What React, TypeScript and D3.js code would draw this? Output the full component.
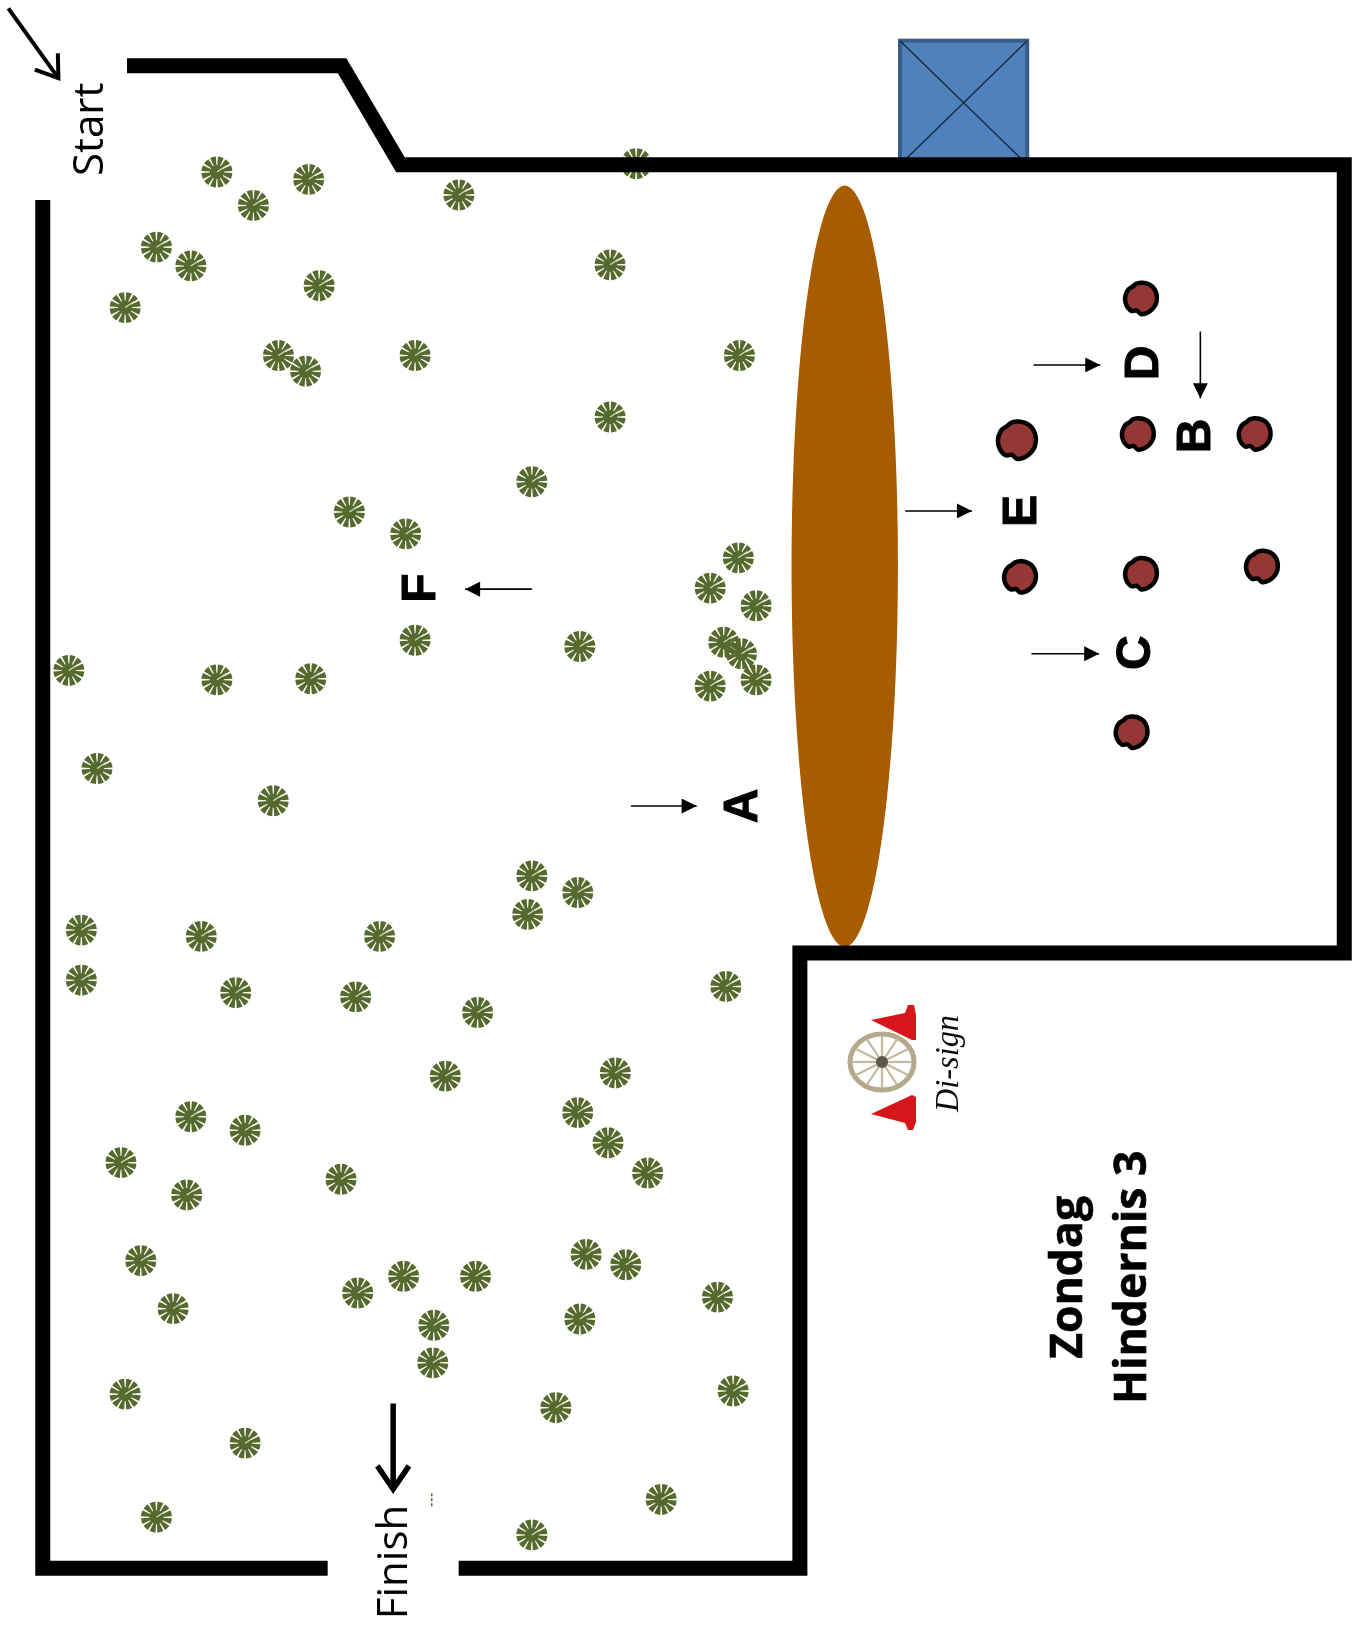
import React, { useEffect, useRef } from 'react';
import * as d3 from 'd3';

const WIDTH = 1362;
const HEIGHT = 1635;

// all positions, in a 1306x1568 frame
const treeX = [208, 296, 243, 440, 610, 150, 183, 306, 120, 585, 267, 293, 398, 709, 585, 510, 335, 389, 708, 681, 725, 398, 556, 694, 711, 725, 681, 66, 208, 298, 93, 262, 510, 554, 506, 78, 193, 364, 78, 226, 341, 696, 458, 427, 590, 554, 183, 235, 583, 116, 621, 327, 179, 135, 562, 600, 166, 343, 387, 456, 688, 416, 556, 415, 120, 703, 533, 235, 634, 150, 510];
const treeY = [165, 172, 197, 187, 157, 237, 255, 274, 295, 254, 341, 356, 341, 341, 400, 462, 491, 512, 535, 564, 581, 614, 620, 616, 627, 652, 658, 643, 652, 651, 737, 768, 840, 856, 877, 892, 898, 898, 940, 952, 956, 946, 971, 1032, 1029, 1067, 1071, 1084, 1096, 1115, 1125, 1131, 1146, 1209, 1203, 1213, 1255, 1240, 1224, 1224, 1244, 1271, 1265, 1307, 1337, 1334, 1350, 1384, 1438, 1455, 1472];

const cones = [
  { x: 1094, y: 286, r: 15.5 },
  { x: 1091, y: 416, r: 15.5 },
  { x: 1203, y: 416, r: 15.5 },
  { x: 975, y: 422, r: 18.5 },
  { x: 978, y: 553, r: 15.5 },
  { x: 1094, y: 550, r: 15.5 },
  { x: 1210, y: 543, r: 15.5 },
  { x: 1085, y: 702, r: 15.5 },
];

const letters = [
  { t: 'A', x: 710, y: 773 },
  { t: 'B', x: 1144, y: 418 },
  { t: 'C', x: 1087, y: 626 },
  { t: 'D', x: 1095, y: 348 },
  { t: 'E', x: 978, y: 490 },
  { t: 'F', x: 401, y: 564 },
];

const pointers = [
  [605, 773, 668, 773],
  [991, 350, 1055, 350],
  [868, 490, 932, 490],
  [989, 627, 1054, 627],
  [510, 565, 446, 565],
  [1151, 318, 1151, 382],
];

const wallOuter = [[129, 63], [328, 63], [384, 158], [1289, 158], [1289, 914], [767, 914], [767, 1504], [447, 1504]];
const wallLeft = [[41, 199], [41, 1504], [307, 1504]];
const box = { x0: 863, x1: 985, y0: 39, y1: 158 };
const mound = { cx: 810, cy: 543, rx: 51, ry: 365 };
const labels = [
  { t: 'Start', x: 83, y: 124 },
  { t: 'Finish', x: 374, y: 1498 },
];
const titleLines = [
  { t: 'Zondag', x: 1021, y: 1225 },
  { t: 'Hindernis 3', x: 1082, y: 1225 },
];
const blobShape = [1, 1.02, 1.04, 1.05, 1.04, 1.03, 1.03, 1.02, 1.02, 1.03, 1.02, 0.84, 1.02, 1.04, 1.03, 1.02, 1, 0.98, 0.92, 0.98];
const spokes = d3.range(12);

// logo outlines, in the 1362x1635 frame of the full size picture
const upperCone = [[871, 1020], [905, 1013], [908, 1005], [914, 1005], [916, 1015], [916, 1040], [912, 1040]];
const lowerCone = [[871, 1114], [912, 1095], [916, 1097], [916, 1122], [913, 1130], [908, 1130], [905, 1123]];

function App() {
  const ref = useRef<SVGSVGElement | null>(null);

  useEffect(() => {
    const svg = d3.select(ref.current);
    svg.selectAll('*').remove();

    const x = d3.scaleLinear().domain([0, 1306]).range([0, WIDTH]);
    const y = d3.scaleLinear().domain([0, 1568]).range([0, HEIGHT]);
    const line = d3.line<number[]>().x((d) => x(d[0])).y((d) => y(d[1]));

    const defs = svg.append('defs');
    defs.append('filter').attr('id', 'soft').append('feGaussianBlur').attr('stdDeviation', 0.6);
    defs
      .append('marker')
      .attr('id', 'tip')
      .attr('viewBox', '0 0 10 10')
      .attr('refX', 10)
      .attr('refY', 5)
      .attr('markerUnits', 'userSpaceOnUse')
      .attr('markerWidth', 16)
      .attr('markerHeight', 15)
      .attr('orient', 'auto')
      .append('path')
      .attr('d', 'M0,0L10,5L0,10Z')
      .attr('fill', '#000');

    const root = svg.append('g').attr('filter', 'url(#soft)');

    // shed behind the wall
    const shed = root.append('g');
    shed
      .append('rect')
      .attr('x', x(box.x0))
      .attr('y', y(box.y0))
      .attr('width', x(box.x1) - x(box.x0))
      .attr('height', y(box.y1) - y(box.y0))
      .attr('fill', '#4f81bd')
      .attr('stroke', '#385d8a')
      .attr('stroke-width', 4);
    shed
      .selectAll('line')
      .data([[box.x0, box.y0, box.x1, box.y1], [box.x1, box.y0, box.x0, box.y1]])
      .enter()
      .append('line')
      .attr('x1', (d) => x(d[0]))
      .attr('y1', (d) => y(d[1]))
      .attr('x2', (d) => x(d[2]))
      .attr('y2', (d) => y(d[3]))
      .attr('stroke', '#1c2b40')
      .attr('stroke-width', 1.5);

    root
      .append('ellipse')
      .attr('cx', x(mound.cx))
      .attr('cy', y(mound.cy))
      .attr('rx', x(mound.rx))
      .attr('ry', y(mound.ry))
      .attr('fill', '#a85c02');

    // trees
    const pie = d3.pie<number>().value(1).sort(null).padAngle(0.13);
    const arc = d3.arc<d3.PieArcDatum<number>>().innerRadius(0).outerRadius(15.5);
    const wedges = pie(spokes);
    const trees = root
      .selectAll('g.tree')
      .data(treeX.map((tx, i) => [tx, treeY[i]]))
      .enter()
      .append('g')
      .attr('class', 'tree')
      .attr('transform', (d) => `translate(${x(d[0])},${y(d[1])})`);
    trees
      .selectAll('path')
      .data(wedges)
      .enter()
      .append('path')
      .attr('d', (d) => arc(d))
      .attr('fill', '#566a2e');
    trees.append('circle').attr('r', 7).attr('fill', '#566a2e');
    trees
      .append('line')
      .attr('x1', 0)
      .attr('y1', 0)
      .attr('x2', 9)
      .attr('y2', -6)
      .attr('stroke', '#d8dfc8')
      .attr('stroke-width', 1.2);

    // walls on top of the trees
    root
      .selectAll('path.wall')
      .data([wallOuter, wallLeft])
      .enter()
      .append('path')
      .attr('class', 'wall')
      .attr('d', (d) => line(d))
      .attr('fill', 'none')
      .attr('stroke', '#000')
      .attr('stroke-width', 15)
      .attr('stroke-linejoin', 'miter')
      .attr('stroke-linecap', 'square');

    // cones
    const blob = d3
      .lineRadial<number>()
      .angle((_, i) => (i / blobShape.length) * 2 * Math.PI)
      .radius((d) => d)
      .curve(d3.curveCatmullRomClosed);
    root
      .selectAll('path.cone')
      .data(cones)
      .enter()
      .append('path')
      .attr('class', 'cone')
      .attr('transform', (d) => `translate(${x(d.x)},${y(d.y)})`)
      .attr('d', (d) => blob(blobShape.map((s) => s * d.r)))
      .attr('fill', '#953735')
      .attr('stroke', '#000')
      .attr('stroke-width', 4.5);

    // pointers
    root
      .selectAll('line.pointer')
      .data(pointers)
      .enter()
      .append('line')
      .attr('class', 'pointer')
      .attr('x1', (d) => x(d[0]))
      .attr('y1', (d) => y(d[1]))
      .attr('x2', (d) => x(d[2]))
      .attr('y2', (d) => y(d[3]))
      .attr('stroke', '#000')
      .attr('stroke-width', 1.6)
      .attr('marker-end', 'url(#tip)');

    // start and finish arrows with an open head
    const openArrow = (a: number[], b: number[], w: number, head: number) => {
      const ang = Math.atan2(y(b[1]) - y(a[1]), x(b[0]) - x(a[0]));
      const wing = (o: number) => [
        x(b[0]) - head * Math.cos(ang + o),
        y(b[1]) - head * Math.sin(ang + o),
      ];
      const tip = [x(b[0]), y(b[1])];
      const g = root.append('g').attr('fill', 'none').attr('stroke', '#000').attr('stroke-width', w);
      g.append('path').attr('d', line([a, b]));
      g.append('path').attr('d', d3.line()([wing(0.6), tip, wing(-0.6)]));
    };
    openArrow([8, 8], [56, 75], 4, 25);
    openArrow([377, 1346], [377, 1428], 5.5, 28);

    const rotated = (
      sel: d3.Selection<any, any, any, any>,
      fam: string,
      size: number,
      weight: string
    ) =>
      sel
        .attr('transform', (d) => `translate(${x(d.x)},${y(d.y)}) rotate(-90)`)
        .attr('text-anchor', 'middle')
        .attr('dominant-baseline', 'central')
        .attr('font-family', fam)
        .attr('font-size', size)
        .attr('font-weight', weight)
        .attr('fill', '#000')
        .text((d) => d.t);

    rotated(root.selectAll('text.mark').data(letters).enter().append('text').attr('class', 'mark'), 'Liberation Sans', 48, 'bold')
      .attr('stroke', '#000')
      .attr('stroke-width', 1);
    rotated(root.selectAll('text.gate').data(labels).enter().append('text').attr('class', 'gate'), 'Open Sans', 42, 'normal');
    rotated(root.selectAll('text.title').data(titleLines).enter().append('text').attr('class', 'title'), 'Open Sans', 44.5, 'bold')
      .attr('stroke', '#000')
      .attr('stroke-width', 0.6);

    // tiny stray mark by the finish
    root
      .append('line')
      .attr('x1', x(414))
      .attr('y1', y(1432))
      .attr('x2', x(414))
      .attr('y2', y(1446))
      .attr('stroke', '#566a2e')
      .attr('stroke-width', 1.5)
      .attr('stroke-dasharray', '3 2');

    // logo: two road cones and a cart wheel
    const logo = root.append('g');
    [upperCone, lowerCone].forEach((pts) => {
      logo
        .append('path')
        .attr('d', d3.line()(pts as [number, number][]) + 'Z')
        .attr('fill', '#d7141c');
    });
    const wheel = logo.append('g').attr('transform', 'translate(882,1062)');
    wheel
      .append('ellipse')
      .attr('rx', 32)
      .attr('ry', 28)
      .attr('fill', 'none')
      .attr('stroke', '#b5a98c')
      .attr('stroke-width', 5);
    wheel
      .selectAll('line')
      .data(spokes)
      .enter()
      .append('line')
      .attr('x2', (d) => 30 * Math.cos((d / 12) * 2 * Math.PI))
      .attr('y2', (d) => 26 * Math.sin((d / 12) * 2 * Math.PI))
      .attr('stroke', '#c4b99f')
      .attr('stroke-width', 2.2);
    wheel.append('circle').attr('r', 6).attr('fill', '#5d5648');
    logo
      .append('text')
      .attr('transform', 'translate(958,1112) rotate(-90)')
      .attr('font-family', 'Liberation Serif')
      .attr('font-style', 'italic')
      .attr('font-size', 34)
      .attr('textLength', 97)
      .attr('lengthAdjust', 'spacingAndGlyphs')
      .attr('fill', '#111')
      .text('Di-sign');
  }, []);

  return (
    <svg
      ref={ref}
      width={WIDTH}
      height={HEIGHT}
      style={{ position: 'absolute', left: 0, top: 0, background: '#fff' }}
    />
  );
}

export default App;
